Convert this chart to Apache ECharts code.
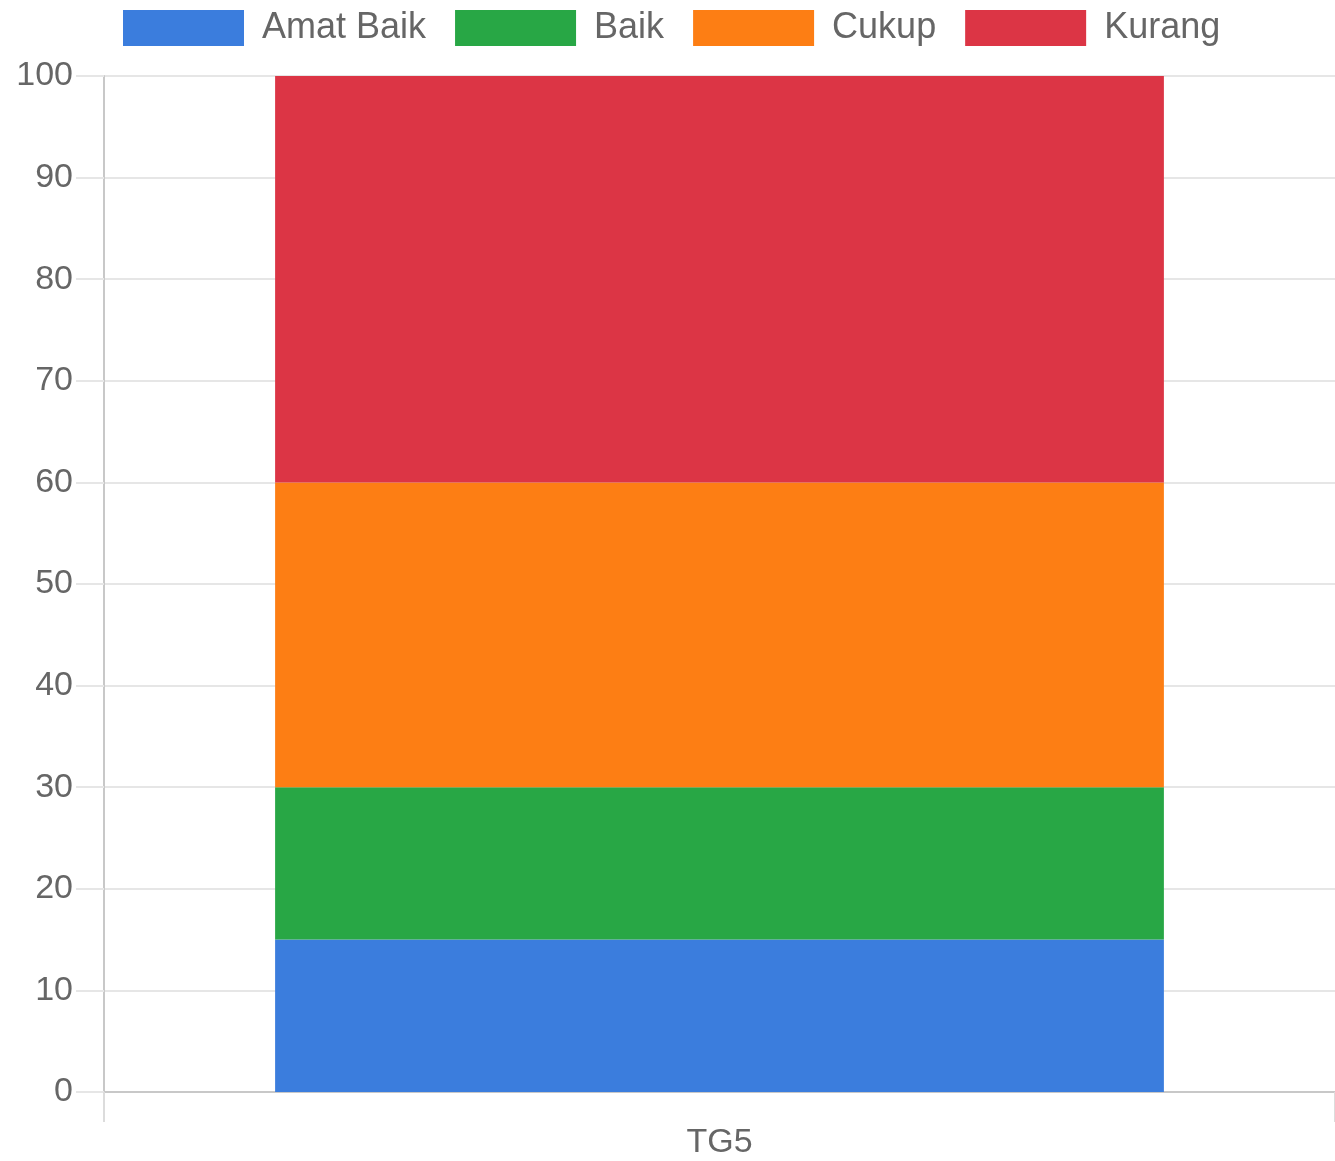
<!DOCTYPE html>
<html>
<head>
<meta charset="utf-8">
<style>
  html, body { margin: 0; padding: 0; background: #fff; }
  #chart { width: 1335px; height: 1161px; }
</style>
<script src="https://cdn.jsdelivr.net/npm/echarts@6/dist/echarts.min.js"></script>
</head>
<body>
<div id="chart"></div>
<script>
// Category and stacked series values (percent)
const categories = ['TG5'];
const seriesNames = ['Amat Baik', 'Baik', 'Cukup', 'Kurang'];
const amatBaik = [15];
const baik = [15];
const cukup = [30];
const kurang = [40];
const colors = ['#3b7ddd', '#28a745', '#fd7e14', '#dc3545'];

const valuesByName = [amatBaik, baik, cukup, kurang];
const font = 'Liberation Sans, Arial, Helvetica, sans-serif';

const chart = echarts.init(document.getElementById('chart'), null, { renderer: 'canvas' });

chart.setOption({
  animation: false,
  color: colors,
  legend: {
    top: 5,
    left: 118,
    itemWidth: 121,
    itemHeight: 36,
    itemGap: 29,
    icon: 'rect',
    textStyle: { color: '#666', fontSize: 36, lineHeight: 36, fontFamily: font, padding: [0, 0, 0, 13] },
    data: seriesNames
  },
  grid: { left: 104, right: 0, top: 76, bottom: 69, containLabel: false },
  xAxis: {
    type: 'category',
    data: categories,
    axisLine: { lineStyle: { color: '#c8c8c8', width: 2 } },
    axisTick: { show: true, length: 30, lineStyle: { color: '#dcdcdc', width: 2 } },
    axisLabel: { color: '#666', fontSize: 34, fontFamily: font, margin: 34 },
    splitLine: { show: false }
  },
  yAxis: {
    type: 'value',
    min: 0,
    max: 100,
    interval: 10,
    axisLine: { show: true, lineStyle: { color: '#c8c8c8', width: 2 } },
    axisTick: { show: true, length: 28, lineStyle: { color: '#e6e6e6', width: 2 } },
    axisLabel: { color: '#666', fontSize: 34, fontFamily: font, margin: 31 },
    splitLine: { show: true, lineStyle: { color: '#e6e6e6', width: 2 } }
  },
  series: seriesNames.map((name, i) => ({
    name: name,
    type: 'bar',
    stack: 'total',
    barWidth: '72.2%',
    data: valuesByName[i],
    itemStyle: { color: colors[i] }
  }))
});
</script>
</body>
</html>
